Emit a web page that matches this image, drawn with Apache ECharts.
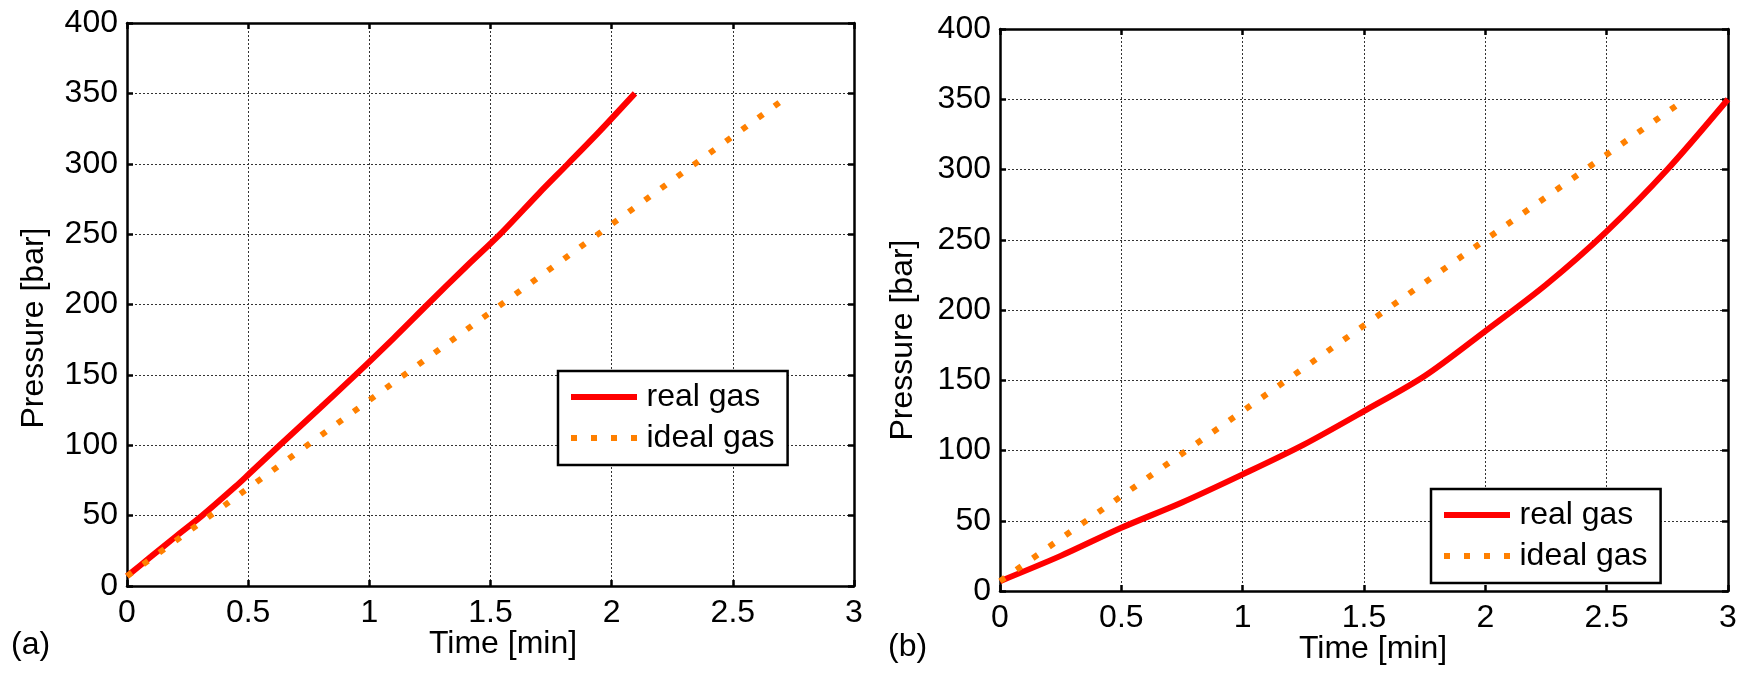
<!DOCTYPE html>
<html>
<head>
<meta charset="utf-8">
<script src="https://cdn.jsdelivr.net/npm/echarts@6/dist/echarts.min.js"></script>
<style>
html,body{margin:0;padding:0;background:#fff;}
#c{width:1752px;height:693px;}
</style>
</head>
<body>
<div id="c"></div>
<script>
// ---- data ----
var xTicks = [0, 0.5, 1, 1.5, 2, 2.5, 3];
var yTicks = [0, 50, 100, 150, 200, 250, 300, 350, 400];

// (a)
var realA_t  = [0, 0.1, 0.2, 0.31, 0.45, 0.5, 0.63, 0.8, 0.943, 1.1, 1.24, 1.4, 1.54, 1.7, 1.82, 1.95, 2.096];
var realA_p  = [7, 21, 35, 50, 71, 79, 100, 127, 150, 176, 200, 227, 250, 279, 300, 323, 350];
var idealA_t = [0, 1, 2, 2.72];
var idealA_p = [7, 132, 257, 347];

// (b)
var realB_t  = [0, 0.25, 0.5, 0.75, 1.0, 1.25, 1.5, 1.75, 2.0, 2.25, 2.5, 2.75, 3.0];
var realB_p  = [7, 25, 45, 63, 83, 104, 128, 153, 185, 218, 256, 300, 350];
var idealB_t = [0, 1, 2, 2.8];
var idealB_p = [7, 128, 250, 347];

var names = ['real gas', 'ideal gas'];
var labels = ['(a)', '(b)'];

function zip(a, b) { return a.map(function (v, i) { return [v, b[i]]; }); }

var FONT = 'Liberation Sans';
var FS = 32;
var RED = '#ff0000';
var ORANGE = '#ff8000';

function xAx(gi, pos) {
  var main = pos === 'bottom';
  return {
    type: 'value', gridIndex: gi, position: pos,
    min: xTicks[0], max: xTicks[xTicks.length - 1], interval: xTicks[1] - xTicks[0],
    axisLine: { show: true, onZero: false, lineStyle: { color: '#000', width: 2.5 } },
    axisTick: { show: true, inside: true, length: 6, lineStyle: { color: '#000', width: 2.5 } },
    axisLabel: { show: main, margin: 11, color: '#000', fontFamily: FONT, fontSize: FS },
    splitLine: { show: main, lineStyle: { color: '#333', width: 1, type: [2, 2] } }
  };
}
function yAx(gi, pos) {
  var main = pos === 'left';
  return {
    type: 'value', gridIndex: gi, position: pos,
    min: yTicks[0], max: yTicks[yTicks.length - 1], interval: yTicks[1] - yTicks[0],
    axisLine: { show: true, onZero: false, lineStyle: { color: '#000', width: 2.5 } },
    axisTick: { show: true, inside: true, length: 6, lineStyle: { color: '#000', width: 2.5 } },
    axisLabel: { show: main, margin: 9, color: '#000', fontFamily: FONT, fontSize: FS },
    splitLine: { show: main, lineStyle: { color: '#333', width: 1, type: [2, 2] } }
  };
}
function realSeries(xi, data) {
  return { name: names[0], type: 'line', xAxisIndex: xi, yAxisIndex: xi, data: data,
    symbol: 'none', showSymbol: false, silent: true, z: 3,
    smooth: 0.3,
    lineStyle: { color: RED, width: 6 }, itemStyle: { color: RED } };
}
function idealSeries(xi, data) {
  return { name: names[1], type: 'line', xAxisIndex: xi, yAxisIndex: xi, data: data,
    symbol: 'none', showSymbol: false, silent: true, z: 4,
    lineStyle: { color: ORANGE, width: 6, type: [6, 14] }, itemStyle: { color: ORANGE } };
}
var ICON_SOLID = 'path://M0,0h66v6h-66z';
var ICON_DOTS = 'path://M0,0h6v6h-6zM20,0h6v6h-6zM40,0h6v6h-6zM60,0h6v6h-6z';
function legend(left, top) {
  return {
    data: [
      { name: names[0], icon: ICON_SOLID, itemStyle: { color: RED } },
      { name: names[1], icon: ICON_DOTS, itemStyle: { color: ORANGE } }
    ],
    orient: 'vertical', left: left, top: top,
    padding: [10, 13, 11, 13], itemGap: 9, itemWidth: 67, itemHeight: 6,
    borderColor: '#000', borderWidth: 2.5, backgroundColor: '#fff',
    selectedMode: false,
    textStyle: { color: '#000', fontFamily: FONT, fontSize: FS, padding: [0, 0, 0, 4] }
  };
}
function txt(x, y, s, rot, align) {
  return { type: 'text', x: x, y: y, rotation: rot || 0,
    style: { text: s, fill: '#000', font: FS + 'px "' + FONT + '"',
      align: align || 'center', verticalAlign: 'middle' } };
}

var chart = echarts.init(document.getElementById('c'), null, { renderer: 'canvas' });
chart.setOption({
  animation: false,
  backgroundColor: '#fff',
  grid: [
    { left: 127, top: 23, width: 727, height: 563 },
    { left: 1000, top: 29, width: 728, height: 562 }
  ],
  xAxis: [xAx(0, 'bottom'), xAx(1, 'bottom'), xAx(0, 'top'), xAx(1, 'top')],
  yAxis: [yAx(0, 'left'), yAx(1, 'left'), yAx(0, 'right'), yAx(1, 'right')],
  legend: [legend(558, 371), legend(1431, 489)],
  series: [
    realSeries(0, zip(realA_t, realA_p)),
    idealSeries(0, zip(idealA_t, idealA_p)),
    realSeries(1, zip(realB_t, realB_p)),
    idealSeries(1, zip(idealB_t, idealB_p))
  ],
  graphic: [
    txt(34, 328, 'Pressure [bar]', Math.PI / 2),
    txt(903, 340, 'Pressure [bar]', Math.PI / 2),
    txt(503, 644, 'Time [min]'),
    txt(1373, 649, 'Time [min]'),
    txt(11, 645, labels[0], 0, 'left'),
    txt(888, 647, labels[1], 0, 'left')
  ]
});
</script>
</body>
</html>
